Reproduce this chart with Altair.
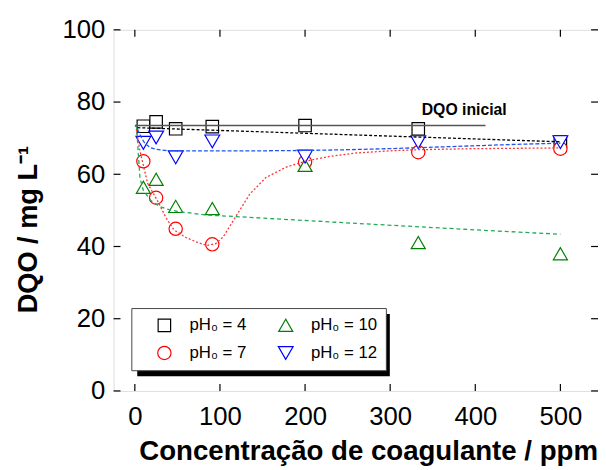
import altair as alt
import pandas as pd

FONT = "Liberation Sans"

# ---- data ----
conc = [10, 25, 48, 91, 200, 333, 500]
dqo_ph4 = [73.3, 74.5, 72.6, 73.2, 73.5, 72.6, 69.0]
dqo_ph7 = [63.6, 53.5, 44.9, 40.6, 63.4, 66.1, 67.1]
dqo_ph10 = [56.4, 58.6, 51.1, 50.5, 62.5, 41.1, 38.0]
dqo_ph12 = [68.7, 70.2, 64.7, 69.1, 64.9, 68.9, 68.9]

labels = ["pH₀ = 4", "pH₀ = 7", "pH₀ = 10", "pH₀ = 12"]
shapes = ["square", "circle", "triangle-up", "triangle-down"]
colors = ["#000000", "#ff0000", "#008000", "#0000ff"]
sizes = [160, 225, 289, 289]

# fitted (dashed) curves
fit4_x = [3, 500]
fit4_y = [72.9, 69.0]
fit7_x = [1, 6, 15, 27, 37, 46, 60, 75, 85, 95, 104, 116, 135, 154, 178, 200, 230, 260, 300, 332, 400, 500]
fit7_y = [73.6, 66.5, 57.5, 52.5, 47.8, 44.6, 42.5, 41.0, 40.3, 40.8, 42.7, 47.3, 54.5, 59.1, 62.0, 63.6, 65.0, 65.9, 66.5, 66.8, 67.1, 67.3]
fit10_x = [2, 4, 6, 10, 19, 30, 40, 50, 85, 125, 200, 260, 330, 400, 500]
fit10_y = [73.5, 66.0, 59.0, 55.5, 52.7, 51.0, 50.2, 49.7, 48.7, 48.2, 47.2, 46.4, 45.5, 44.6, 43.4]
fit12_x = [3, 8, 12, 18, 25, 35, 50, 100, 150, 200, 250, 300, 350, 400, 450, 500]
fit12_y = [72.5, 70.0, 68.5, 67.4, 66.9, 66.6, 66.5, 66.5, 66.5, 66.6, 66.8, 67.1, 67.5, 67.9, 68.3, 68.6]

initial_x = [0, 412]
initial_y = [73.5, 73.5]
initial_label = "DQO inicial"
initial_label_pos = (387, 77.7)

x_ticks = [0, 100, 200, 300, 400, 500]
y_ticks = [0, 20, 40, 60, 80, 100]

# ---- frames ----
pts = pd.concat([
    pd.DataFrame({"conc": conc, "dqo": v, "serie": lab})
    for v, lab in zip([dqo_ph4, dqo_ph7, dqo_ph10, dqo_ph12], labels)
], ignore_index=True)

fits = [
    (pd.DataFrame({"conc": fit4_x, "dqo": fit4_y}), "#000000", [3, 2]),
    (pd.DataFrame({"conc": fit7_x, "dqo": fit7_y}), "#ff3333", [2, 2]),
    (pd.DataFrame({"conc": fit10_x, "dqo": fit10_y}), "#22aa55", [4, 3]),
    (pd.DataFrame({"conc": fit12_x, "dqo": fit12_y}), "#2255ee", [4, 2]),
]

W, H = 491, 366
xscale = alt.Scale(domain=[-25, 544.2], nice=False, zero=False)
yscale = alt.Scale(domain=[0, 100], nice=False, zero=False)

points = alt.Chart(pts).mark_point(
    filled=False, fill="white", opacity=1, strokeWidth=1.2
).encode(
    x=alt.X("conc:Q", scale=xscale,
            axis=alt.Axis(values=x_ticks, tickSize=0, domain=False, grid=False,
                          labelFontSize=26, labelFont=FONT, labelColor="black",
                          labelPadding=13, labelFlush=False,
                          title="Concentração de coagulante / ppm",
                          titleFont=FONT, titleFontSize=28, titleFontWeight="bold",
                          titleColor="black", titleX=258, titleY=70,
                          titleAlign="center", titleBaseline="alphabetic")),
    y=alt.Y("dqo:Q", scale=yscale,
            axis=alt.Axis(values=y_ticks, tickSize=0, domain=False, grid=False,
                          labelFontSize=26, labelFont=FONT, labelColor="black",
                          labelPadding=9, labelFlush=False,
                          title="DQO / mg L⁻¹",
                          titleFont=FONT, titleFontSize=27.5, titleFontWeight="bold",
                          titleColor="black", titleAngle=270, titleX=-86, titleY=202,
                          titleAlign="center", titleBaseline="middle")),
    shape=alt.Shape("serie:N", scale=alt.Scale(domain=labels, range=shapes),
                    legend=alt.Legend(orient="none", legendX=18, legendY=282, columns=2,
                                      direction="vertical",
                                      title=None, fillColor="white", strokeColor="#444444",
                                      padding=8, symbolOffset=17, labelOffset=17,
                                      columnPadding=14, rowPadding=9, clipHeight=19,
                                      labelFontSize=17, labelFont=FONT, labelColor="black",
                                      symbolStrokeWidth=1.2, symbolFillColor="white")),
    color=alt.Color("serie:N", scale=alt.Scale(domain=labels, range=colors)),
    size=alt.Size("serie:N", scale=alt.Scale(domain=labels, range=sizes)),
)

layers = [points]
for df, col, dash in fits:
    layers.append(alt.Chart(df).mark_line(color=col, strokeDash=dash, strokeWidth=1.3).encode(
        x=alt.X("conc:Q", scale=xscale), y=alt.Y("dqo:Q", scale=yscale)))

init_df = pd.DataFrame({"conc": initial_x, "dqo": initial_y})
layers.append(alt.Chart(init_df).mark_line(color="#555555", strokeWidth=1.6).encode(
    x=alt.X("conc:Q", scale=xscale), y=alt.Y("dqo:Q", scale=yscale)))

lab_df = pd.DataFrame({"conc": [initial_label_pos[0]], "dqo": [initial_label_pos[1]], "t": [initial_label]})
layers.append(alt.Chart(lab_df).mark_text(font=FONT, fontSize=16, fontWeight="bold",
                                          color="black", align="center", baseline="middle").encode(
    x=alt.X("conc:Q", scale=xscale), y=alt.Y("dqo:Q", scale=yscale), text="t:N"))

# inward ticks on all four sides
xt = pd.DataFrame({"v": x_ticks})
yt = pd.DataFrame({"v": y_ticks})
TL = 7
layers.append(alt.Chart(xt).mark_rule(color="black", strokeWidth=1.2).encode(
    x=alt.X("v:Q", scale=xscale), y=alt.value(H), y2=alt.value(H - TL)))
layers.append(alt.Chart(xt).mark_rule(color="black", strokeWidth=1.2).encode(
    x=alt.X("v:Q", scale=xscale), y=alt.value(0), y2=alt.value(TL)))
layers.append(alt.Chart(yt).mark_rule(color="black", strokeWidth=1.2).encode(
    y=alt.Y("v:Q", scale=yscale), x=alt.value(0), x2=alt.value(TL)))
layers.append(alt.Chart(yt).mark_rule(color="black", strokeWidth=1.2).encode(
    y=alt.Y("v:Q", scale=yscale), x=alt.value(W), x2=alt.value(W - TL)))

# legend shadow
layers.append(alt.Chart(xt.head(1)).mark_rect(color="black").encode(
    x=alt.value(24), x2=alt.value(280), y=alt.value(288), y2=alt.value(351)))

chart = alt.layer(*layers).properties(
    width=W, height=H,
    autosize=alt.AutoSizeParams(type="none"),
    padding={"left": 107, "top": 19, "right": 0, "bottom": 77},
).configure_view(stroke="black", strokeWidth=1.2).configure(background="white")

chart.save("out.html", embed_options={"renderer": "svg", "actions": False})
